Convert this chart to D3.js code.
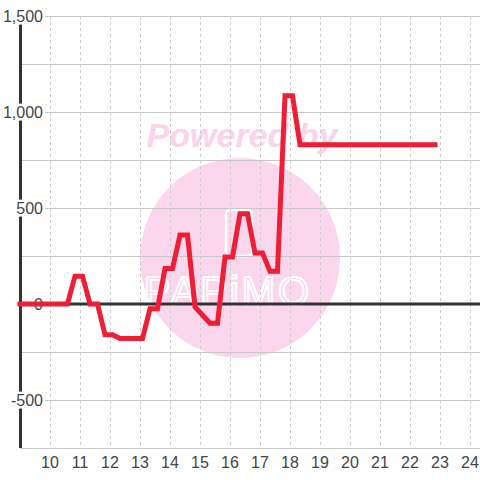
<!DOCTYPE html>
<html>
<head>
<meta charset="utf-8">
<title>line</title>
<style>
  body { margin: 0; background: #fff; }
  text { font-family: "Liberation Sans", Arial, sans-serif; }
</style>
</head>
<body>
<script src="https://cdn.jsdelivr.net/npm/d3@7"></script>
<script>
// times in "h:mm"
var times = ["8:55", "10:35", "10:50", "11:05", "11:20", "11:35", "11:50", "12:05", "12:20", "13:05",
             "13:20", "13:35", "13:50", "14:05", "14:20", "14:35", "14:50", "15:20", "15:35", "15:50",
             "16:05", "16:20", "16:35", "16:50", "17:05", "17:20", "17:35", "17:50", "18:05", "18:20", "22:55"];
var values = [0, 0, 145, 145, 0, 0, -160, -160, -180, -180,
              -25, -25, 185, 185, 360, 360, -15, -100, -100, 245,
              245, 470, 470, 265, 265, 170, 170, 1085, 1085, 830, 830];
var xTicks = [10, 11, 12, 13, 14, 15, 16, 17, 18, 19, 20, 21, 22, 23, 24];
var yTicks = [-500, 0, 500, 1000, 1500];
var yGrid = [-750, -500, -250, 0, 250, 500, 750, 1000, 1250, 1500];

var width = 480, height = 480;
var plotLeft = 20.5, plotRight = 480, plotTop = 16, plotBottom = 448;

var svg = d3.select("body").append("svg")
    .attr("width", width)
    .attr("height", height);

var x = d3.scaleLinear().domain([10, 24]).range([50, 470]);
var y = d3.scaleLinear().domain([-750, 1500]).range([plotBottom, plotTop]);

function toHour(s) {
    var p = s.split(":");
    return +p[0] + (+p[1]) / 60;
}
var data = times.map(function (t, i) { return { t: toHour(t), v: values[i] }; });

// watermark
var wm = svg.append("g").attr("class", "watermark");
wm.append("circle")
    .attr("cx", 240).attr("cy", 258).attr("r", 100)
    .attr("fill", "#fcd6ec");
wm.append("text")
    .attr("x", 242).attr("y", 147)
    .attr("text-anchor", "middle")
    .attr("font-size", 34)
    .attr("font-weight", "bold")
    .attr("font-style", "italic")
    .attr("fill", "#fbd3ea")
    .text("Powered by");
wm.append("rect")
    .attr("x", 226).attr("y", 210).attr("width", 26).attr("height", 46)
    .attr("rx", 4)
    .attr("fill", "none")
    .attr("stroke", "#fff")
    .attr("stroke-width", 2.5);
wm.append("text")
    .attr("x", 228).attr("y", 305)
    .attr("text-anchor", "middle")
    .attr("font-size", 40)
    .attr("letter-spacing", 3)
    .attr("fill", "none")
    .attr("stroke", "#fff")
    .attr("stroke-width", 2)
    .text("PAPiMO");

// grid
svg.append("g").selectAll("line")
    .data(yGrid)
    .enter().append("line")
    .attr("x1", plotLeft).attr("x2", plotRight)
    .attr("y1", function (d) { return Math.round(y(d)) + 0.5; })
    .attr("y2", function (d) { return Math.round(y(d)) + 0.5; })
    .attr("stroke", "#c8c8c8")
    .attr("stroke-width", 1);

svg.append("g").selectAll("line")
    .data(xTicks)
    .enter().append("line")
    .attr("x1", function (d) { return x(d) + 0.5; })
    .attr("x2", function (d) { return x(d) + 0.5; })
    .attr("y1", plotTop).attr("y2", plotBottom)
    .attr("stroke", "#cccccc")
    .attr("stroke-width", 1)
    .attr("stroke-dasharray", "3,3");

// zero line and y axis line
svg.append("line")
    .attr("x1", plotLeft).attr("x2", plotRight)
    .attr("y1", y(0)).attr("y2", y(0))
    .attr("stroke", "#333")
    .attr("stroke-width", 3);
svg.append("line")
    .attr("x1", plotLeft).attr("x2", plotLeft)
    .attr("y1", plotTop).attr("y2", plotBottom)
    .attr("stroke", "#333")
    .attr("stroke-width", 3);

// y labels with white background
var fmt = d3.format(",");
var yl = svg.append("g").selectAll("g")
    .data(yTicks)
    .enter().append("g")
    .attr("transform", function (d) { return "translate(43," + y(d) + ")"; });
yl.append("text")
    .attr("text-anchor", "end")
    .attr("dy", "0.35em")
    .attr("font-size", 16)
    .attr("fill", "#444")
    .text(function (d) { return fmt(d).replace("\u2212", "-"); });
yl.each(function () {
    var g = d3.select(this);
    var b = g.select("text").node().getBBox();
    g.insert("rect", "text")
        .attr("x", b.x - 1).attr("y", b.y)
        .attr("width", b.width + 3).attr("height", b.height)
        .attr("fill", "#fff");
});

// x labels
svg.append("g").selectAll("text")
    .data(xTicks)
    .enter().append("text")
    .attr("x", function (d) { return x(d); })
    .attr("y", 468)
    .attr("text-anchor", "middle")
    .attr("font-size", 16)
    .attr("fill", "#444")
    .text(function (d) { return d; });

// series
var line = d3.line()
    .x(function (d) { return x(d.t); })
    .y(function (d) { return y(d.v); });
svg.append("path")
    .datum(data)
    .attr("d", line)
    .attr("fill", "none")
    .attr("stroke", "#ee1f35")
    .attr("stroke-width", 5)
    .attr("stroke-linejoin", "miter");
</script>
</body>
</html>
